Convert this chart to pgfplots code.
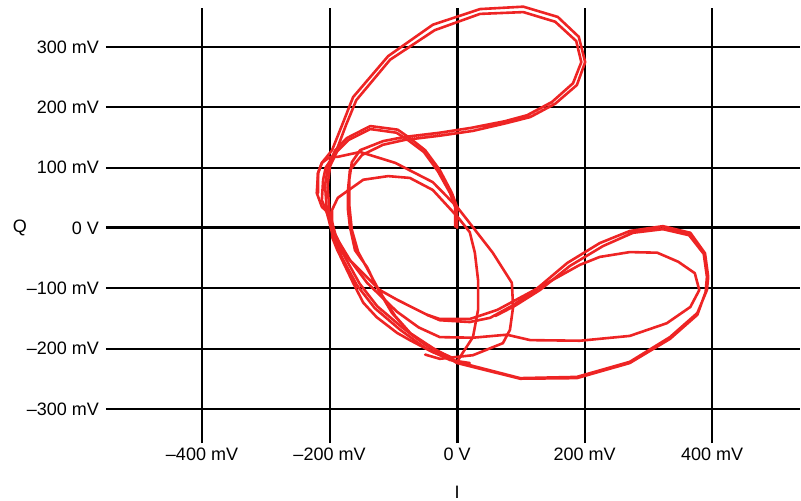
\documentclass[border=0pt]{standalone}
\usepackage{fontspec}
\setmainfont{Liberation Sans}
\usepackage{pgfplots}
\pgfplotsset{compat=1.18}
\definecolor{trace}{RGB}{238,36,36}
\tikzset{iq/.style={draw=trace, line width=2.6bp, line join=round, line cap=round, mark=none}}
\begin{document}
\begin{tikzpicture}[font=\fontsize{18bp}{20bp}\selectfont]
\begin{axis}[name=ax,
  scale only axis, width=694bp, height=435bp,
  xmin=-550.6, xmax=538, ymin=-356.6, ymax=364.8,
  axis line style={draw=none},
  major tick length=0pt,
  xtick={-400,-200,0,200,400},
  xticklabels={–400 mV,–200 mV,0 V,200 mV,400 mV},
  ytick={-300,-200,-100,0,100,200,300},
  yticklabels={–300 mV,–200 mV,–100 mV,0 V,100 mV,200 mV,300 mV},
  xticklabel style={anchor=north, inner sep=0pt, yshift=-5bp},
  yticklabel style={anchor=east, inner sep=0pt, xshift=-7bp},
  grid=major,
  grid style={black, line width=2bp},
  extra x ticks={0}, extra x tick labels={},
  extra x tick style={grid style={black, line width=3bp}},
  extra y ticks={0}, extra y tick labels={},
  extra y tick style={grid style={black, line width=3bp}},
  every axis x label/.style={at={(axis description cs:0.5,0)}, anchor=center, xshift=4bp, yshift=-49bp},
  every axis y label/.style={at={(axis description cs:0,0.5)}, anchor=center, xshift=-86bp, yshift=-2bp},
  xlabel={I}, ylabel={Q},
  clip=false,
]
% upper loop (a), lower-right outer loop, return, upper loop (b), lower-right outer loop again
\addplot[iq] coordinates {
(-218,58) (-218,91) (-212,108) (-196,129) (-179,174) (-163,217) (-108,285) (-38,337) (36,363) (104,367) (158,350) (191,317) (201,275) (188,237) (154,206) (115,184) (78,174) (25,161) (-27,153) (-82,146) (-116,138) (-149,121) (-168,96) (-171,63) (-171,30) (-168,2) (-160,-37) (-141,-65) (-126,-98) (-102,-141) (-74,-174) (-38,-199) (0,-222)
(99,-249) (188,-247) (271,-222) (334,-181) (377,-141) (392,-103) (394,-81) (389,-42) (366,-8) (323,3) (271,-5) (224,-25) (173,-58) (126,-100) (88,-128) (52,-149) (20,-156) (-27,-153) (-47,-144) (-94,-119) (-121,-103) (-157,-65) (-184,-37) (-195,2) (-204,25) (-212,46)
(-210,80) (-206,100) (-190,126) (-174,171) (-158,212) (-105,279) (-35,328) (36,355) (104,358) (154,342) (187,310) (195,275) (182,240) (149,209) (110,187) (75,177) (22,166) (-27,158) (-82,151) (-116,144) (-152,129) (-165,109) (-169,80) (-169,38) (-165,-3) (-155,-40) (-138,-73) (-121,-106) (-97,-146) (-71,-177) (-35,-202) (0,-224)
(99,-250) (188,-249) (271,-224) (334,-184) (377,-144) (390,-106) (392,-81) (387,-43) (364,-12) (323,-2) (276,-8) (229,-30) (177,-63) (130,-103) (91,-129) (60,-146)
};
% hump from the origin
\addplot[iq] coordinates {
(0,0) (0,35) (-8,58) (-27,96) (-50,129) (-74,149) (-93,163) (-136,169) (-173,149) (-191,129) (-202,104) (-207,71) (-204,25) (-195,-12) (-180,-50) (-157,-95) (-129,-133) (-89,-169) (-50,-199) (-11,-219) (20,-224)
};
\addplot[iq] coordinates {
(-3,2) (-3,35) (-11,58) (-30,94) (-52,126) (-76,145) (-95,158) (-136,164) (-170,146) (-188,127) (-199,103) (-203,71) (-200,26) (-191,-10) (-176,-48) (-153,-92) (-125,-130) (-86,-165) (-47,-196) (-8,-215)
};
% inner lower-right loop, leftmost arc and the wide centre loop
\addplot[iq] coordinates {
(-47,-144) (-27,-151) (20,-151) (63,-136) (130,-98) (193,-61) (224,-48) (271,-40) (314,-41) (347,-56) (373,-75) (380,-103) (366,-131) (329,-158) (271,-179) (193,-187) (115,-186) (78,-177) (25,-182) (-27,-181) (-60,-165) (-94,-139) (-141,-91) (-168,-53) (-184,-25) (-195,-3) (-199,22) (-212,35) (-220,58) (-218,91) (-212,108) (-199,118) (-187,118) (-152,126) (-97,108) (-38,76) (0,35) (20,8) (56,-41) (86,-91) (88,-131) (83,-169) (72,-191) (25,-211) (-27,-217) (-50,-210)
};
% tall centre loop
\addplot[iq] coordinates {
(0,-222) (9,-207) (25,-181) (33,-136) (33,-86) (28,-41) (20,-7) (2,17) (-38,63) (-74,83) (-108,86) (-147,80) (-187,50) (-196,30) (-196,-15) (-188,-36) (-163,-91) (-147,-124) (-126,-148) (-94,-174) (-74,-186) (-38,-206) (-6,-219) (0,-222)
};
\end{axis}
\pgfresetboundingbox
\path ([shift={(-106bp,-58bp)}]ax.south west) rectangle ([shift={(1bp,8bp)}]ax.north east);
\end{tikzpicture}
\end{document}
